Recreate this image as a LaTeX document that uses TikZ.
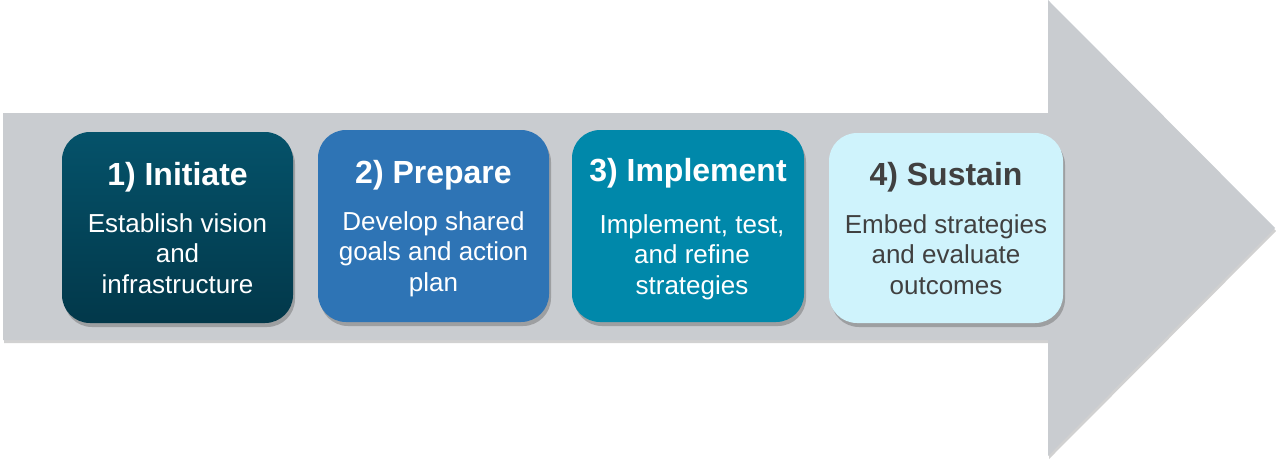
\documentclass[tikz,border=0pt]{standalone}
\usepackage{fontspec}
\setmainfont{Liberation Sans}
\usetikzlibrary{shadows}
\definecolor{arrowgray}{HTML}{C9CCD0}
\definecolor{boxAtop}{HTML}{05526A}
\definecolor{boxAbot}{HTML}{02384A}
\definecolor{boxB}{HTML}{2E74B5}
\definecolor{boxC}{HTML}{0088AA}
\definecolor{boxD}{HTML}{CFF3FC}
\definecolor{darktext}{HTML}{404040}
\begin{document}
\begin{tikzpicture}[x=1pt,y=-1pt,
  stepbox/.style={rounded corners=28pt, minimum width=231pt, minimum height=191pt, inner sep=0pt,
    drop shadow={shadow xshift=2pt, shadow yshift=-4pt, opacity=0.35, fill=black!70}},
  titletext/.style={anchor=base, inner sep=0pt, font=\fontsize{32}{36}\selectfont\bfseries},
  bodytext/.style={anchor=north, inner sep=0pt, align=center, font=\fontsize{26}{30.5}\selectfont}]
\useasboundingbox (0,0) rectangle (1276,459);
% big arrow
\fill[arrowgray, drop shadow={shadow xshift=1pt, shadow yshift=-3pt, opacity=0.3, fill=black!60}]
  (3,113) -- (1048,113) -- (1048,0) -- (1275,228) -- (1048,456) -- (1048,340) -- (3,340) -- cycle;
% boxes
\node[stepbox, top color=boxAtop, bottom color=boxAbot, minimum width=231pt, minimum height=191pt] (b1) at (177.5,227.5) {};
\node[stepbox, fill=boxB, minimum width=231pt, minimum height=192pt] (b2) at (433.5,226) {};
\node[stepbox, fill=boxC, minimum width=232pt, minimum height=192pt] (b3) at (688,226) {};
\node[stepbox, fill=boxD, minimum width=234pt, minimum height=190pt] (b4) at (946,228) {};
% titles
\node[titletext, text=white] (t1) at (177.5,185) {1) Initiate};
\node[titletext, text=white] (t2) at (433.5,183) {2) Prepare};
\node[titletext, text=white] (t3) at (688,181) {3) Implement};
\node[titletext, text=darktext] (t4) at (946,185) {4) Sustain};
% bodies
\node[bodytext, text=white] (d1) at (177.5,213) {\vphantom{Eb}Establish vision\\and\\infrastructure};
\node[bodytext, text=white] (d2) at (433.5,211) {\vphantom{Eb}Develop shared\\goals and action\\plan};
\node[bodytext, text=white] (d3) at (692,214) {\vphantom{Eb}Implement, test,\\and refine\\strategies};
\node[bodytext, text=darktext] (d4) at (946,214) {\vphantom{Eb}Embed strategies\\and evaluate\\outcomes};
\end{tikzpicture}
\end{document}
